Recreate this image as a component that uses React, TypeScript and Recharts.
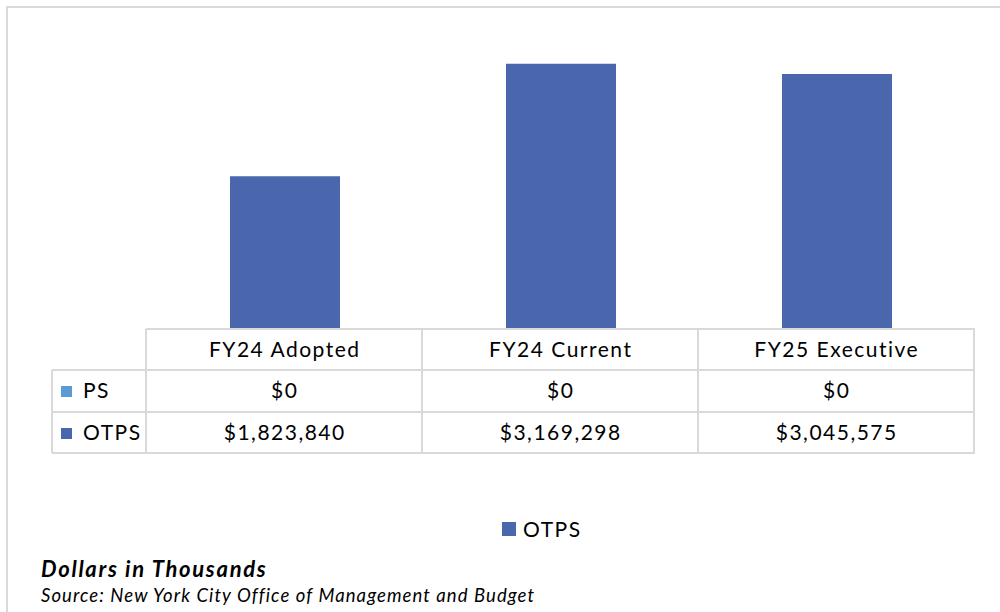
import React from 'react';
import { ComposedChart, Bar, XAxis, YAxis } from 'recharts';

const categories = ['FY24 Adopted', 'FY24 Current', 'FY25 Executive'];
const psValues = [0, 0, 0];
const otpsValues = [1823840, 3169298, 3045575];
const seriesNames = ['PS', 'OTPS'];
const title = 'Dollars in Thousands';
const source = 'Source: New York City Office of Management and Budget';

const data = categories.map((c, i) => ({ name: c, PS: psValues[i], OTPS: otpsValues[i] }));

const PS_COLOR = '#5b9bd5';
const OTPS_COLOR = '#4a66ac';
const GRID = '#d9d9d9';
const FONT = 'Lato, "Open Sans", sans-serif';

const W = 1000;
const H = 612;
const PLOT_LEFT = 147;
const PLOT_RIGHT = 975;
const BASE = 329;

const fmt = (v: number) => '$' + v.toLocaleString('en-US');

function Overlay() {
  const colW = (PLOT_RIGHT - PLOT_LEFT) / categories.length;
  const rows = [
    { name: seriesNames[0], color: PS_COLOR, values: psValues },
    { name: seriesNames[1], color: OTPS_COLOR, values: otpsValues },
  ];
  const rowTops = [BASE, 370, 412, 453];
  const labelLeft = 52;
  const lines: React.ReactNode[] = [];
  lines.push(<line key="h0" x1={PLOT_LEFT - 1} x2={PLOT_RIGHT} y1={rowTops[0]} y2={rowTops[0]} />);
  for (let i = 1; i < rowTops.length; i++) {
    lines.push(<line key={'h' + i} x1={labelLeft} x2={PLOT_RIGHT} y1={rowTops[i]} y2={rowTops[i]} />);
  }
  lines.push(<line key="vl" x1={labelLeft} x2={labelLeft} y1={rowTops[1]} y2={rowTops[3]} />);
  for (let j = 0; j <= categories.length; j++) {
    const x = PLOT_LEFT - 1 + j * colW;
    lines.push(<line key={'v' + j} x1={x} x2={x} y1={rowTops[0]} y2={rowTops[3]} />);
  }
  const ls = 1.5;
  return (
    <svg width={W} height={H} style={{ position: 'absolute', left: 0, top: 0, pointerEvents: 'none' }}>
      <g stroke={GRID} strokeWidth={2}>{lines}</g>
      <g fontFamily={FONT} fontSize={21} fill="#000" letterSpacing={ls}>
        {categories.map((c, j) => (
          <text key={'c' + j} x={PLOT_LEFT - 1 + (j + 0.5) * colW + ls / 2} y={357} textAnchor="middle">{c}</text>
        ))}
        {rows.map((r, i) => {
          const baseline = i === 0 ? 398 : 440;
          return (
            <g key={'r' + i}>
              <rect x={61} y={baseline - 12} width={11} height={11} fill={r.color} />
              <text x={83} y={baseline}>{r.name}</text>
              {r.values.map((v, j) => (
                <text key={j} x={PLOT_LEFT - 1 + (j + 0.5) * colW + ls / 2} y={baseline} textAnchor="middle">{fmt(v)}</text>
              ))}
            </g>
          );
        })}
        <rect x={502} y={522} width={14} height={14} fill={OTPS_COLOR} />
        <text x={523} y={537}>{seriesNames[1]}</text>
      </g>
      <text x={41} y={577} fontFamily={FONT} fontSize={22} fontWeight={700} fontStyle="italic" letterSpacing={1.7} fill="#000">{title}</text>
      <text x={41} y={602} fontFamily={FONT} fontSize={18.5} fontStyle="italic" letterSpacing={1.08} fill="#000">{source}</text>
    </svg>
  );
}

export default function App() {
  return (
    <div style={{ position: 'absolute', left: 0, top: 0, width: W, height: H, background: '#fff', overflow: 'hidden' }}>
      <div style={{ position: 'absolute', left: 6, top: 6, width: W + 20, height: H + 20, border: `2px solid ${GRID}`, boxSizing: 'border-box' }} />
      <ComposedChart
        width={W}
        height={H}
        data={data}
        margin={{ top: 36, right: W - PLOT_RIGHT, bottom: H - BASE, left: PLOT_LEFT }}
        style={{ position: 'absolute', left: 0, top: 0 }}
      >
        <XAxis dataKey="name" hide />
        <YAxis domain={[0, 3500000]} hide />
        <Bar dataKey="PS" name="PS" stackId="a" fill={PS_COLOR} barSize={110} isAnimationActive={false} legendType="none" />
        <Bar dataKey="OTPS" name="OTPS" stackId="a" fill={OTPS_COLOR} barSize={110} isAnimationActive={false} />
      </ComposedChart>
      <Overlay />
    </div>
  );
}
